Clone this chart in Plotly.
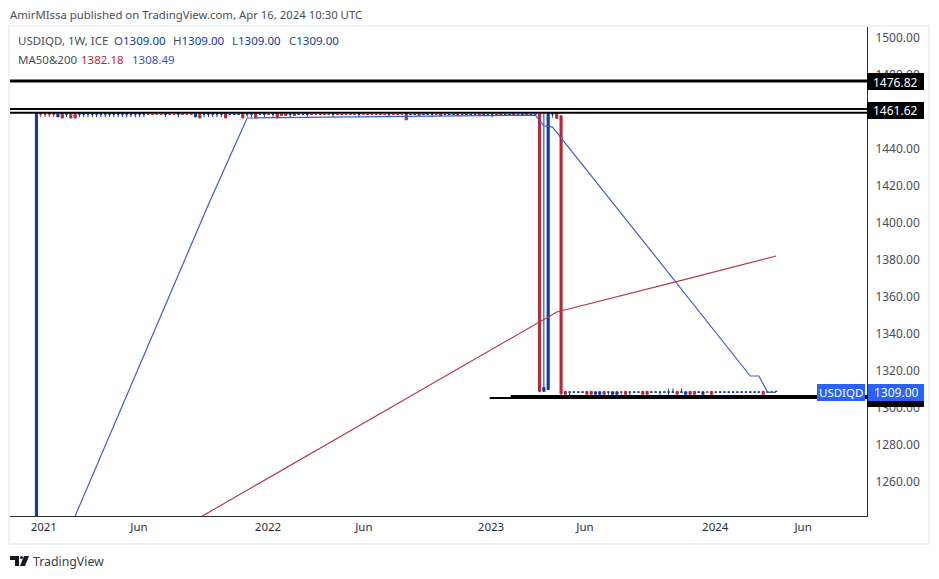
import pandas as pd
import plotly.graph_objects as go

# weekly bars
dates = pd.date_range("2020-12-28", periods=173, freq="7D")

opens = [1190,
    1458.9,1458.9,1458.9,1458.9,1457.4,1459.4,1458.9,1459.4,1459.4,1458.9,
    1458.9,1458.9,1458.9,1458.9,1458.9,1458.9,1458.9,1458.9,1458.9,1458.9,
    1458.9,1458.9,1458.9,1458.9,1458.9,1458.7,1458.7,1458.7,1458.7,1458.9,
    1458.7,1458.7,1458.9,1458.7,1458.7,1458.7,1457.4,1459.4,1458.9,1458.9,
    1458.9,1458.9,1458.9,1459.4,1458.7,1458.7,1458.7,1459.4,1458.9,1458.9,
    1459.4,1458.7,1458.9,1458.7,1458.9,1459.4,1459.0,1459.0,1458.9,1459.0,
    1458.7,1458.7,1458.9,1458.7,1458.7,1458.7,1458.7,1458.7,1458.9,1458.7,
    1458.7,1458.7,1458.7,1458.7,1458.9,1458.7,1458.7,1458.7,1458.7,1458.7,
    1458.7,1458.9,1458.7,1458.7,1458.7,1459.4,1458.7,1458.7,1459.0,1458.7,
    1458.7,1458.9,1458.7,1459.0,1458.7,1458.7,1458.7,1459.0,1458.7,1458.7,
    1458.7,1458.7,1459.0,1458.7,1458.7,1458.9,1458.7,1459.0,1458.7,1458.7,
    1459.0,1458.7,1458.7,1459.0,1458.7,1458.7,
    1459,1309,1310,1459,1459.5,1458,
    1309,1308.6,1308.6,1308.6,1308.6,1309,1309,1307.4,1307.4,1309,
    1308.6,1307.4,1307.4,1308.6,1309,1308.6,1308.6,1308.6,1309,1309,
    1308.6,1308.6,1308.6,1308.6,1308.6,1308.6,1309,1308.6,1307.4,1309,
    1309,1308.6,1307.4,1308.6,1309,1308.6,1308.6,1308.6,1308.6,1308.6,
    1308.6,1308.6,1308.6,1308.6,1308.6,1308.6,1309,1308.6,1308.6,1309]
highs = [1460,
    1459.2,1459.2,1459.2,1459.2,1459.2,1459.4,1459.2,1459.4,1459.4,1459.2,
    1459.2,1459.2,1459.2,1459.2,1459.2,1459.2,1459.2,1459.2,1459.2,1459.2,
    1459.2,1459.2,1459.2,1459.2,1459.2,1458.9,1458.9,1458.9,1458.9,1459.2,
    1458.9,1458.9,1459.2,1458.9,1458.9,1458.9,1459.2,1459.4,1459.2,1459.2,
    1459.2,1459.2,1459.2,1459.4,1458.9,1458.9,1458.9,1459.4,1459.2,1459.2,
    1459.4,1458.9,1459.2,1458.9,1459.2,1459.4,1459.1,1459.1,1459.2,1459.1,
    1458.9,1458.9,1459.2,1458.9,1458.9,1458.9,1458.9,1458.9,1459.2,1458.9,
    1458.9,1458.9,1458.9,1458.9,1459.2,1458.9,1458.9,1458.9,1458.9,1458.9,
    1458.9,1459.2,1458.9,1458.9,1458.9,1459.4,1458.9,1458.9,1459.1,1458.9,
    1458.9,1459.2,1458.9,1459.1,1458.9,1458.9,1458.9,1459.1,1458.9,1458.9,
    1458.9,1458.9,1459.1,1458.9,1458.9,1459.2,1458.9,1459.1,1458.9,1458.9,
    1459.1,1458.9,1458.9,1459.1,1458.9,1458.9,
    1459.4,1459,1459.4,1459.3,1459.5,1458,
    1309,1308.8,1308.8,1308.8,1308.8,1309,1309,1308.8,1308.8,1309,
    1308.8,1308.8,1308.8,1308.8,1309,1308.8,1308.8,1308.8,1309,1309,
    1308.8,1308.8,1308.8,1308.8,1310.5,1310.5,1309,1310.5,1308.8,1309,
    1309,1308.8,1308.8,1308.8,1309,1308.8,1308.8,1308.8,1308.8,1308.8,
    1308.8,1308.8,1308.8,1308.8,1308.8,1308.8,1309,1308.8,1308.8,1309]
lows = [1190,
    1457.2,1457.2,1457.2,1457.2,1457.4,1456.8,1457.2,1456.8,1456.8,1457.2,
    1457.2,1457.2,1457.2,1457.2,1457.2,1457.2,1457.2,1457.2,1457.2,1457.2,
    1457.2,1457.2,1457.2,1457.2,1457.2,1458.5,1458.5,1458.5,1458.5,1457.2,
    1458.5,1458.5,1457.2,1458.5,1458.5,1458.5,1457.4,1456.8,1457.2,1457.2,
    1457.2,1457.2,1457.2,1456.8,1458.5,1458.5,1458.5,1456.8,1457.2,1457.2,
    1456.8,1458.5,1457.2,1458.5,1457.2,1456.8,1458.2,1458.2,1457.2,1458.2,
    1458.5,1458.5,1457.2,1458.5,1458.5,1458.5,1458.5,1458.5,1457.2,1458.5,
    1458.5,1458.5,1458.5,1458.5,1457.2,1458.5,1458.5,1458.5,1458.5,1458.5,
    1458.5,1457.2,1458.5,1458.5,1458.5,1455.8,1458.5,1458.5,1458.2,1458.5,
    1458.5,1457.2,1458.5,1458.2,1458.5,1458.5,1458.5,1458.2,1458.5,1458.5,
    1458.5,1458.5,1458.2,1458.5,1458.5,1457.2,1458.5,1458.2,1458.5,1458.5,
    1458.2,1458.5,1458.5,1458.2,1458.5,1458.5,
    1308.5,1308.8,1310,1457,1456.6,1307.5,
    1307.4,1306.8,1308.4,1308.4,1308.4,1307.4,1307.4,1307.4,1307.4,1307.4,
    1306.8,1307.4,1307.4,1306.8,1307.4,1306.8,1308.4,1308.4,1307.4,1307.4,
    1308.4,1308.4,1306.8,1308.4,1306.8,1308.4,1307.4,1308.4,1307.4,1307.4,
    1307.4,1308.4,1307.4,1308.4,1307.4,1308.4,1308.4,1308.4,1308.4,1308.4,
    1308.4,1308.4,1308.4,1308.4,1308.4,1308.4,1307.4,1308.4,1308.4,1309]
closes = [1459.4,
    1458.9,1458.9,1458.9,1458.9,1459.0,1456.8,1458.9,1456.8,1456.8,1458.9,
    1458.9,1458.9,1458.9,1458.9,1458.9,1458.9,1458.9,1458.9,1458.9,1458.9,
    1458.9,1458.9,1458.9,1458.9,1458.9,1458.7,1458.7,1458.7,1458.7,1458.9,
    1458.7,1458.7,1458.9,1458.7,1458.7,1458.7,1459.0,1456.8,1458.9,1458.9,
    1458.9,1458.9,1458.9,1456.8,1458.7,1458.7,1458.7,1456.8,1458.9,1458.9,
    1456.8,1458.7,1458.9,1458.7,1458.9,1456.8,1458.2,1458.2,1458.9,1458.2,
    1458.7,1458.7,1458.9,1458.7,1458.7,1458.7,1458.7,1458.7,1458.9,1458.7,
    1458.7,1458.7,1458.7,1458.7,1458.9,1458.7,1458.7,1458.7,1458.7,1458.7,
    1458.7,1458.9,1458.7,1458.7,1458.7,1455.8,1458.7,1458.7,1458.2,1458.7,
    1458.7,1458.9,1458.7,1458.2,1458.7,1458.7,1458.7,1458.2,1458.7,1458.7,
    1458.7,1458.7,1458.2,1458.7,1458.7,1458.9,1458.7,1458.2,1458.7,1458.7,
    1458.2,1458.7,1458.7,1458.2,1458.7,1458.7,
    1309,1311,1459,1459,1456.6,1307.6,
    1307.4,1308.6,1308.6,1308.6,1308.6,1307.4,1307.4,1308.8,1308.8,1307.4,
    1308.6,1308.8,1308.8,1308.6,1307.4,1308.6,1308.6,1308.6,1307.4,1307.4,
    1308.6,1308.6,1308.6,1308.6,1308.6,1308.6,1307.4,1308.6,1308.8,1307.4,
    1307.4,1308.6,1308.8,1308.6,1307.4,1308.6,1308.6,1308.6,1308.6,1308.6,
    1308.6,1308.6,1308.6,1308.6,1308.6,1308.6,1307.4,1308.6,1308.6,1309]

# moving averages, points along the lines (bar number, price)
ma50_bar = [9, 20, 30, 40, 49, 116, 118, 120, 140, 166, 168, 170, 172]
ma50_val = [1241.6, 1301.6, 1355.7, 1410, 1456.8, 1458.4, 1452.6, 1451.9, 1393.5, 1317.3, 1317.3, 1308.6, 1308.49]
ma200_bar = [38, 80, 117, 121, 150, 172]
ma200_val = [1240.8, 1297, 1346.5, 1351.9, 1369, 1382.18]

# horizontal levels
levels = [1476.82, 1461.62, 1459.6]
support_thin = ("2023-01-05", 1305.4)
support_thick = ("2023-02-08", 1306.0)

y_ticks = [1500, 1480, 1460, 1440, 1420, 1400, 1380, 1360, 1340, 1320, 1300, 1280, 1260]
x_tick_dates = ["2021-01-09", "2021-06-13", "2022-01-09", "2022-06-14", "2023-01-07", "2023-06-09", "2024-01-07", "2024-05-29"]
x_tick_text = ["2021", "Jun", "2022", "Jun", "2023", "Jun", "2024", "Jun"]

x_range = ["2020-11-15", "2024-09-10"]
y_range = [1241.6, 1506]

BLUE = "#0e3a9e"
RED = "#b22b3c"
MA_BLUE = "#3f5fc0"
MA_RED = "#b5394a"
TEXT = "#4a4d57"
FONT = "Noto Sans"

L, R, T, B = 10, 867, 27, 516
def px(x):
    return (x - L) / (R - L)
def py(y):
    return (B - y) / (B - T)

fig = go.Figure()
fig.add_trace(go.Candlestick(
    x=dates, open=opens, high=highs, low=lows, close=closes,
    increasing=dict(line=dict(color=BLUE, width=1), fillcolor=BLUE),
    decreasing=dict(line=dict(color=RED, width=1), fillcolor=RED),
    whiskerwidth=0, showlegend=False, hoverinfo="skip"))
fig.add_trace(go.Scatter(x=dates[ma50_bar], y=ma50_val, mode="lines",
                         line=dict(color=MA_BLUE, width=1.2), showlegend=False))
fig.add_trace(go.Scatter(x=dates[ma200_bar], y=ma200_val, mode="lines",
                         line=dict(color=MA_RED, width=1.2), showlegend=False))
for lev in levels:
    fig.add_trace(go.Scatter(x=x_range, y=[lev, lev], mode="lines",
                             line=dict(color="black", width=3 if lev == levels[0] else 2),
                             showlegend=False))
fig.add_trace(go.Scatter(x=[support_thin[0], x_range[1]], y=[support_thin[1]] * 2, mode="lines",
                         line=dict(color="black", width=2), showlegend=False))
fig.add_trace(go.Scatter(x=[support_thick[0], x_range[1]], y=[support_thick[1]] * 2, mode="lines",
                         line=dict(color="black", width=4), showlegend=False))

def tag(x0, x1, y0, y1, color):
    return dict(type="rect", xref="paper", yref="paper", x0=px(x0), x1=px(x1), y0=py(y0), y1=py(y1),
                fillcolor=color, line=dict(width=0), layer="above")

shapes = [
    # chart frame
    dict(type="rect", xref="paper", yref="paper", x0=px(9), x1=px(929), y0=py(26), y1=py(544),
         line=dict(color="#eef1f6", width=2), layer="below"),
    tag(867, 924, 73, 90, "black"),
    tag(867, 924, 102, 119, "black"),
    tag(867, 924, 395, 407, "black"),
    tag(817, 865, 384, 401, "#2962ff"),
    tag(868, 924, 384, 401, "#2962ff"),
    # TradingView logo
    dict(type="path", xref="paper", yref="paper", fillcolor="#131722", line=dict(width=0), layer="above",
         path="M %f %f L %f %f L %f %f L %f %f L %f %f L %f %f Z" % (
             px(10), py(556), px(19), py(556), px(19), py(566), px(15), py(566), px(15), py(560), px(10), py(560))),
    dict(type="path", xref="paper", yref="paper", fillcolor="#131722", line=dict(width=0), layer="above",
         path="M %f %f L %f %f L %f %f L %f %f Z" % (
             px(24), py(556), px(29), py(556), px(25), py(566), px(20), py(566))),
    dict(type="circle", xref="paper", yref="paper", fillcolor="#131722", line=dict(width=0), layer="above",
         x0=px(20), x1=px(23), y0=py(556), y1=py(559)),
]

def note(x, y, text, size=11.5, color=TEXT, anchor="left"):
    return dict(xref="paper", yref="paper", x=px(x), y=py(y), text=text, showarrow=False,
                xanchor=anchor, yanchor="middle", align="left", borderpad=0, borderwidth=0,
                font=dict(family=FONT, size=size, color=color))

def col(s, c=BLUE):
    return '<span style="color:%s">%s</span>' % (c, s)

annotations = [
    note(10, 15, "AmirMIssa published on TradingView.com, Apr 16, 2024 10:30 UTC", 11.35),
    note(18, 41, "USDIQD, 1W, ICE"),
    note(114, 41, "O" + col("1309.00")),
    note(173, 41, "H" + col("1309.00")),
    note(232, 41, "L" + col("1309.00")),
    note(289, 41, "C" + col("1309.00")),
    note(18, 59, "MA50&200"),
    note(81, 59, "1382.18", color=RED),
    note(132, 59, "1308.49", color="#2f55b5"),
    note(895.5, 82, "1476.82", 12, "white", "center"),
    note(895.5, 110.5, "1461.62", 12, "white", "center"),
    note(841, 392.5, "USDIQD", 11.5, "white", "center"),
    note(896, 392.5, "1309.00", 12, "white", "center"),
    note(33, 561, "TradingView", 12.3, "#3a3e4a"),
]

fig.update_layout(
    width=939, height=579,
    margin=dict(l=L, r=939 - R, t=T, b=579 - B),
    paper_bgcolor="white", plot_bgcolor="white",
    font=dict(family=FONT, size=12, color=TEXT),
    shapes=shapes, annotations=annotations,
    xaxis=dict(range=x_range, type="date", rangeslider=dict(visible=False),
               tickvals=x_tick_dates, ticktext=x_tick_text, ticklen=0, showgrid=False,
               showline=True, linecolor="#2a2e39", linewidth=1, zeroline=False,
               tickfont=dict(family=FONT, size=11.5, color="#2a2e39")),
    yaxis=dict(range=y_range, side="right", tickvals=y_ticks,
               ticktext=["%.2f" % v for v in y_ticks], ticklen=0, showgrid=False,
               showline=True, linecolor="#2a2e39", linewidth=1, zeroline=False,
               ticklabelstandoff=5,
               tickfont=dict(family=FONT, size=12, color=TEXT)),
)

# the page has a default body margin that would shift everything
fig.write_html("out.html", config={"displayModeBar": False},
               post_script="document.body.style.margin='0';")
